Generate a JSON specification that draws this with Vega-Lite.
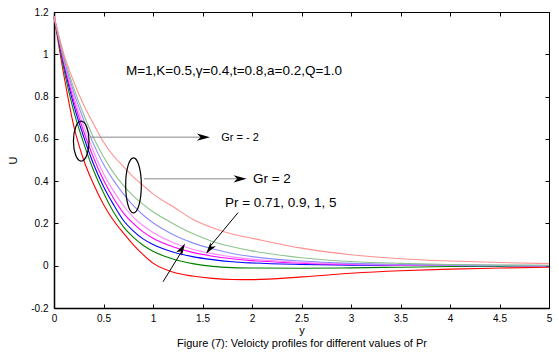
{
  "$schema": "https://vega.github.io/schema/vega-lite/v6.json",
  "autosize": "none",
  "width": 495,
  "height": 296,
  "padding": {"left": 54, "top": 12, "right": 9, "bottom": 48},
  "background": "white",
  "config": {
    "font": "Liberation Sans",
    "view": {"stroke": "black", "strokeWidth": 1},
    "axis": {"grid": false, "domainColor": "black", "tickColor": "black", "labelColor": "black", "titleColor": "black", "labelFont": "Liberation Sans", "titleFont": "Liberation Sans", "labelFontSize": 10, "titleFontSize": 11, "titleFontWeight": "normal"}
  },
  "datasets": {
    "curves": [
      {"series":"Gr=-2, Pr=0.71","y":0,"U":1.18},{"series":"Gr=-2, Pr=0.71","y":0.1,"U":0.9},{"series":"Gr=-2, Pr=0.71","y":0.2,"U":0.66},{"series":"Gr=-2, Pr=0.71","y":0.3,"U":0.5},{"series":"Gr=-2, Pr=0.71","y":0.4,"U":0.385},{"series":"Gr=-2, Pr=0.71","y":0.5,"U":0.29},{"series":"Gr=-2, Pr=0.71","y":0.6,"U":0.215},{"series":"Gr=-2, Pr=0.71","y":0.7,"U":0.155},{"series":"Gr=-2, Pr=0.71","y":0.8,"U":0.1},{"series":"Gr=-2, Pr=0.71","y":0.9,"U":0.052},{"series":"Gr=-2, Pr=0.71","y":1.0,"U":0.012},{"series":"Gr=-2, Pr=0.71","y":1.2,"U":-0.03},{"series":"Gr=-2, Pr=0.71","y":1.4,"U":-0.049},{"series":"Gr=-2, Pr=0.71","y":1.6,"U":-0.06},{"series":"Gr=-2, Pr=0.71","y":1.8,"U":-0.065},{"series":"Gr=-2, Pr=0.71","y":2.0,"U":-0.066},{"series":"Gr=-2, Pr=0.71","y":2.5,"U":-0.053},{"series":"Gr=-2, Pr=0.71","y":3.0,"U":-0.036},{"series":"Gr=-2, Pr=0.71","y":3.5,"U":-0.024},{"series":"Gr=-2, Pr=0.71","y":4.0,"U":-0.016},{"series":"Gr=-2, Pr=0.71","y":4.5,"U":-0.011},{"series":"Gr=-2, Pr=0.71","y":5.0,"U":-0.007},
      {"series":"Gr=-2, Pr=0.9","y":0,"U":1.18},{"series":"Gr=-2, Pr=0.9","y":0.1,"U":0.93},{"series":"Gr=-2, Pr=0.9","y":0.2,"U":0.73},{"series":"Gr=-2, Pr=0.9","y":0.3,"U":0.58},{"series":"Gr=-2, Pr=0.9","y":0.4,"U":0.45},{"series":"Gr=-2, Pr=0.9","y":0.5,"U":0.345},{"series":"Gr=-2, Pr=0.9","y":0.6,"U":0.255},{"series":"Gr=-2, Pr=0.9","y":0.7,"U":0.185},{"series":"Gr=-2, Pr=0.9","y":0.8,"U":0.135},{"series":"Gr=-2, Pr=0.9","y":0.9,"U":0.097},{"series":"Gr=-2, Pr=0.9","y":1.0,"U":0.068},{"series":"Gr=-2, Pr=0.9","y":1.2,"U":0.032},{"series":"Gr=-2, Pr=0.9","y":1.4,"U":0.01},{"series":"Gr=-2, Pr=0.9","y":1.6,"U":-0.003},{"series":"Gr=-2, Pr=0.9","y":1.8,"U":-0.009},{"series":"Gr=-2, Pr=0.9","y":2.0,"U":-0.011},{"series":"Gr=-2, Pr=0.9","y":2.5,"U":-0.012},{"series":"Gr=-2, Pr=0.9","y":3.0,"U":-0.01},{"series":"Gr=-2, Pr=0.9","y":3.5,"U":-0.007},{"series":"Gr=-2, Pr=0.9","y":4.0,"U":-0.004},{"series":"Gr=-2, Pr=0.9","y":4.5,"U":-0.002},{"series":"Gr=-2, Pr=0.9","y":5.0,"U":0},
      {"series":"Gr=-2, Pr=1","y":0,"U":1.18},{"series":"Gr=-2, Pr=1","y":0.1,"U":0.95},{"series":"Gr=-2, Pr=1","y":0.2,"U":0.76},{"series":"Gr=-2, Pr=1","y":0.3,"U":0.61},{"series":"Gr=-2, Pr=1","y":0.4,"U":0.48},{"series":"Gr=-2, Pr=1","y":0.5,"U":0.375},{"series":"Gr=-2, Pr=1","y":0.6,"U":0.29},{"series":"Gr=-2, Pr=1","y":0.7,"U":0.215},{"series":"Gr=-2, Pr=1","y":0.8,"U":0.165},{"series":"Gr=-2, Pr=1","y":0.9,"U":0.127},{"series":"Gr=-2, Pr=1","y":1.0,"U":0.1},{"series":"Gr=-2, Pr=1","y":1.2,"U":0.065},{"series":"Gr=-2, Pr=1","y":1.4,"U":0.043},{"series":"Gr=-2, Pr=1","y":1.6,"U":0.029},{"series":"Gr=-2, Pr=1","y":1.8,"U":0.019},{"series":"Gr=-2, Pr=1","y":2.0,"U":0.013},{"series":"Gr=-2, Pr=1","y":2.5,"U":0.006},{"series":"Gr=-2, Pr=1","y":3.0,"U":0.003},{"series":"Gr=-2, Pr=1","y":3.5,"U":0.002},{"series":"Gr=-2, Pr=1","y":4.0,"U":0.001},{"series":"Gr=-2, Pr=1","y":4.5,"U":0},{"series":"Gr=-2, Pr=1","y":5.0,"U":0},
      {"series":"Gr=-2, Pr=5","y":0,"U":1.18},{"series":"Gr=-2, Pr=5","y":0.1,"U":0.96},{"series":"Gr=-2, Pr=5","y":0.2,"U":0.78},{"series":"Gr=-2, Pr=5","y":0.3,"U":0.635},{"series":"Gr=-2, Pr=5","y":0.4,"U":0.51},{"series":"Gr=-2, Pr=5","y":0.5,"U":0.405},{"series":"Gr=-2, Pr=5","y":0.6,"U":0.32},{"series":"Gr=-2, Pr=5","y":0.7,"U":0.25},{"series":"Gr=-2, Pr=5","y":0.8,"U":0.2},{"series":"Gr=-2, Pr=5","y":0.9,"U":0.16},{"series":"Gr=-2, Pr=5","y":1.0,"U":0.13},{"series":"Gr=-2, Pr=5","y":1.2,"U":0.09},{"series":"Gr=-2, Pr=5","y":1.4,"U":0.063},{"series":"Gr=-2, Pr=5","y":1.6,"U":0.045},{"series":"Gr=-2, Pr=5","y":1.8,"U":0.033},{"series":"Gr=-2, Pr=5","y":2.0,"U":0.024},{"series":"Gr=-2, Pr=5","y":2.5,"U":0.012},{"series":"Gr=-2, Pr=5","y":3.0,"U":0.006},{"series":"Gr=-2, Pr=5","y":3.5,"U":0.003},{"series":"Gr=-2, Pr=5","y":4.0,"U":0.002},{"series":"Gr=-2, Pr=5","y":4.5,"U":0.001},{"series":"Gr=-2, Pr=5","y":5.0,"U":0},
      {"series":"Gr=2, Pr=5","y":0,"U":1.18},{"series":"Gr=2, Pr=5","y":0.1,"U":0.97},{"series":"Gr=2, Pr=5","y":0.2,"U":0.8},{"series":"Gr=2, Pr=5","y":0.3,"U":0.66},{"series":"Gr=2, Pr=5","y":0.4,"U":0.54},{"series":"Gr=2, Pr=5","y":0.5,"U":0.435},{"series":"Gr=2, Pr=5","y":0.6,"U":0.355},{"series":"Gr=2, Pr=5","y":0.7,"U":0.285},{"series":"Gr=2, Pr=5","y":0.8,"U":0.23},{"series":"Gr=2, Pr=5","y":0.9,"U":0.19},{"series":"Gr=2, Pr=5","y":1.0,"U":0.157},{"series":"Gr=2, Pr=5","y":1.2,"U":0.11},{"series":"Gr=2, Pr=5","y":1.4,"U":0.078},{"series":"Gr=2, Pr=5","y":1.6,"U":0.057},{"series":"Gr=2, Pr=5","y":1.8,"U":0.042},{"series":"Gr=2, Pr=5","y":2.0,"U":0.031},{"series":"Gr=2, Pr=5","y":2.5,"U":0.016},{"series":"Gr=2, Pr=5","y":3.0,"U":0.008},{"series":"Gr=2, Pr=5","y":3.5,"U":0.004},{"series":"Gr=2, Pr=5","y":4.0,"U":0.002},{"series":"Gr=2, Pr=5","y":4.5,"U":0.001},{"series":"Gr=2, Pr=5","y":5.0,"U":0},
      {"series":"Gr=2, Pr=1","y":0,"U":1.18},{"series":"Gr=2, Pr=1","y":0.1,"U":0.98},{"series":"Gr=2, Pr=1","y":0.2,"U":0.82},{"series":"Gr=2, Pr=1","y":0.3,"U":0.69},{"series":"Gr=2, Pr=1","y":0.4,"U":0.575},{"series":"Gr=2, Pr=1","y":0.5,"U":0.48},{"series":"Gr=2, Pr=1","y":0.6,"U":0.405},{"series":"Gr=2, Pr=1","y":0.7,"U":0.34},{"series":"Gr=2, Pr=1","y":0.8,"U":0.285},{"series":"Gr=2, Pr=1","y":0.9,"U":0.24},{"series":"Gr=2, Pr=1","y":1.0,"U":0.203},{"series":"Gr=2, Pr=1","y":1.2,"U":0.148},{"series":"Gr=2, Pr=1","y":1.4,"U":0.108},{"series":"Gr=2, Pr=1","y":1.6,"U":0.08},{"series":"Gr=2, Pr=1","y":1.8,"U":0.058},{"series":"Gr=2, Pr=1","y":2.0,"U":0.043},{"series":"Gr=2, Pr=1","y":2.5,"U":0.022},{"series":"Gr=2, Pr=1","y":3.0,"U":0.011},{"series":"Gr=2, Pr=1","y":3.5,"U":0.006},{"series":"Gr=2, Pr=1","y":4.0,"U":0.003},{"series":"Gr=2, Pr=1","y":4.5,"U":0.002},{"series":"Gr=2, Pr=1","y":5.0,"U":0.001},
      {"series":"Gr=2, Pr=0.9","y":0,"U":1.18},{"series":"Gr=2, Pr=0.9","y":0.1,"U":0.99},{"series":"Gr=2, Pr=0.9","y":0.2,"U":0.84},{"series":"Gr=2, Pr=0.9","y":0.3,"U":0.715},{"series":"Gr=2, Pr=0.9","y":0.4,"U":0.605},{"series":"Gr=2, Pr=0.9","y":0.5,"U":0.515},{"series":"Gr=2, Pr=0.9","y":0.6,"U":0.44},{"series":"Gr=2, Pr=0.9","y":0.7,"U":0.38},{"series":"Gr=2, Pr=0.9","y":0.8,"U":0.33},{"series":"Gr=2, Pr=0.9","y":0.9,"U":0.29},{"series":"Gr=2, Pr=0.9","y":1.0,"U":0.255},{"series":"Gr=2, Pr=0.9","y":1.2,"U":0.2},{"series":"Gr=2, Pr=0.9","y":1.4,"U":0.152},{"series":"Gr=2, Pr=0.9","y":1.6,"U":0.115},{"series":"Gr=2, Pr=0.9","y":1.8,"U":0.09},{"series":"Gr=2, Pr=0.9","y":2.0,"U":0.07},{"series":"Gr=2, Pr=0.9","y":2.5,"U":0.038},{"series":"Gr=2, Pr=0.9","y":3.0,"U":0.02},{"series":"Gr=2, Pr=0.9","y":3.5,"U":0.011},{"series":"Gr=2, Pr=0.9","y":4.0,"U":0.006},{"series":"Gr=2, Pr=0.9","y":4.5,"U":0.003},{"series":"Gr=2, Pr=0.9","y":5.0,"U":0.002},
      {"series":"Gr=2, Pr=0.71","y":0,"U":1.18},{"series":"Gr=2, Pr=0.71","y":0.1,"U":1.0},{"series":"Gr=2, Pr=0.71","y":0.2,"U":0.87},{"series":"Gr=2, Pr=0.71","y":0.3,"U":0.76},{"series":"Gr=2, Pr=0.71","y":0.4,"U":0.67},{"series":"Gr=2, Pr=0.71","y":0.5,"U":0.585},{"series":"Gr=2, Pr=0.71","y":0.6,"U":0.52},{"series":"Gr=2, Pr=0.71","y":0.7,"U":0.47},{"series":"Gr=2, Pr=0.71","y":0.8,"U":0.42},{"series":"Gr=2, Pr=0.71","y":0.9,"U":0.38},{"series":"Gr=2, Pr=0.71","y":1.0,"U":0.34},{"series":"Gr=2, Pr=0.71","y":1.2,"U":0.28},{"series":"Gr=2, Pr=0.71","y":1.4,"U":0.22},{"series":"Gr=2, Pr=0.71","y":1.6,"U":0.18},{"series":"Gr=2, Pr=0.71","y":1.8,"U":0.15},{"series":"Gr=2, Pr=0.71","y":2.0,"U":0.13},{"series":"Gr=2, Pr=0.71","y":2.5,"U":0.083},{"series":"Gr=2, Pr=0.71","y":3.0,"U":0.052},{"series":"Gr=2, Pr=0.71","y":3.5,"U":0.033},{"series":"Gr=2, Pr=0.71","y":4.0,"U":0.022},{"series":"Gr=2, Pr=0.71","y":4.5,"U":0.015},{"series":"Gr=2, Pr=0.71","y":5.0,"U":0.01}
    ],
    "bigLabels": [
      {"y":0.727,"U":0.92,"text":"M=1,K=0.5,γ=0.4,t=0.8,a=0.2,Q=1.0"},
      {"y":2.01,"U":0.411,"text":"Gr = 2"},
      {"y":1.727,"U":0.297,"text":"Pr = 0.71, 0.9, 1, 5"}
    ],
    "smallLabels": [
      {"y":1.69,"U":0.605,"text":"Gr = - 2"}
    ],
    "grayArrows": [
      {"y":0.364,"U":0.608,"y2":1.5,"U2":0.608},
      {"y":0.91,"U":0.411,"y2":1.86,"U2":0.411}
    ],
    "blackArrows": [
      {"y":1.101,"U":-0.076,"y2":1.3,"U2":0.075},
      {"y":1.859,"U":0.251,"y2":1.565,"U2":0.085}
    ],
    "rightHeads": [{"y":1.51,"U":0.608},{"y":1.88,"U":0.411}],
    "upHead": [{"y":1.293,"U":0.08}],
    "downHead": [{"y":1.572,"U":0.079}],
    "ellipse1": [{"y":0.275,"U":0.589}],
    "ellipse2": [{"y":0.803,"U":0.38}]
  },
  "layer": [
    {
      "data": {"name": "curves"},
      "mark": {"type": "line", "strokeWidth": 1.1, "interpolate": "monotone"},
      "encoding": {
        "x": {"field": "y", "type": "quantitative", "scale": {"domain": [0, 5], "nice": false, "zero": false},
          "axis": {"orient": "bottom", "values": [0,0.5,1,1.5,2,2.5,3,3.5,4,4.5,5], "format": "~g", "tickSize": -4, "labelPadding": 9, "labelFlush": false, "domainWidth": 1.5,
            "title": ["y", "Figure (7): Veloicty profiles for different values of Pr"], "titlePadding": 1}},
        "y": {"field": "U", "type": "quantitative", "scale": {"domain": [-0.2, 1.2], "nice": false, "zero": false},
          "axis": {"orient": "left", "values": [-0.2,0,0.2,0.4,0.6,0.8,1,1.2], "format": "~g", "labelExpr": "replace(datum.label, '−', '-')", "tickSize": -4, "labelPadding": 10, "labelFlush": false, "domainWidth": 1.5,
            "title": "U", "titlePadding": 12}},
        "color": {"field": "series", "type": "nominal", "legend": null,
          "scale": {"domain": ["Gr=-2, Pr=0.71","Gr=-2, Pr=0.9","Gr=-2, Pr=1","Gr=-2, Pr=5","Gr=2, Pr=5","Gr=2, Pr=1","Gr=2, Pr=0.9","Gr=2, Pr=0.71"],
            "range": ["#ff0000","#008000","#0000ff","#ff00ff","#ff88ff","#8c8cff","#8cc48c","#ff9090"]}}
      }
    },
    {
      "data": {"name": "bigLabels"},
      "mark": {"type": "text", "align": "left", "baseline": "middle", "fontSize": 13.5, "font": "Liberation Sans", "color": "black"},
      "encoding": {
        "x": {"field": "y", "type": "quantitative", "axis": {"orient": "top", "values": [0,0.5,1,1.5,2,2.5,3,3.5,4,4.5,5], "labels": false, "title": null, "tickSize": -4, "domain": false}},
        "y": {"field": "U", "type": "quantitative", "axis": {"orient": "right", "values": [-0.2,0,0.2,0.4,0.6,0.8,1,1.2], "labels": false, "title": null, "tickSize": -4, "domain": false}},
        "text": {"field": "text"}
      }
    },
    {
      "data": {"name": "smallLabels"},
      "mark": {"type": "text", "align": "left", "baseline": "middle", "fontSize": 11, "font": "Liberation Sans", "color": "black"},
      "encoding": {
        "x": {"field": "y", "type": "quantitative", "axis": null},
        "y": {"field": "U", "type": "quantitative", "axis": null},
        "text": {"field": "text"}
      }
    },
    {
      "data": {"name": "grayArrows"},
      "mark": {"type": "rule", "color": "#888888", "strokeWidth": 1},
      "encoding": {
        "x": {"field": "y", "type": "quantitative", "axis": null},
        "y": {"field": "U", "type": "quantitative", "axis": null},
        "x2": {"field": "y2"},
        "y2": {"field": "U2"}
      }
    },
    {
      "data": {"name": "blackArrows"},
      "mark": {"type": "rule", "color": "black", "strokeWidth": 1},
      "encoding": {
        "x": {"field": "y", "type": "quantitative", "axis": null},
        "y": {"field": "U", "type": "quantitative", "axis": null},
        "x2": {"field": "y2"},
        "y2": {"field": "U2"}
      }
    },
    {
      "data": {"name": "rightHeads"},
      "mark": {"type": "point", "shape": "M 1 0 L -1 -0.55 L -0.45 0 L -1 0.55 Z", "size": 169, "filled": true, "color": "black", "opacity": 1},
      "encoding": {
        "x": {"field": "y", "type": "quantitative", "axis": null},
        "y": {"field": "U", "type": "quantitative", "axis": null}
      }
    },
    {
      "data": {"name": "upHead"},
      "mark": {"type": "point", "shape": "M 1 0 L -1 -0.55 L -0.45 0 L -1 0.55 Z", "size": 144, "angle": -60, "filled": true, "color": "black", "opacity": 1},
      "encoding": {
        "x": {"field": "y", "type": "quantitative", "axis": null},
        "y": {"field": "U", "type": "quantitative", "axis": null}
      }
    },
    {
      "data": {"name": "downHead"},
      "mark": {"type": "point", "shape": "M 1 0 L -1 -0.55 L -0.45 0 L -1 0.55 Z", "size": 144, "angle": 127, "filled": true, "color": "black", "opacity": 1},
      "encoding": {
        "x": {"field": "y", "type": "quantitative", "axis": null},
        "y": {"field": "U", "type": "quantitative", "axis": null}
      }
    },
    {
      "data": {"name": "ellipse1"},
      "mark": {"type": "point", "shape": "M 0.39 0 C 0.39 0.5523 0.2154 1 0 1 C -0.2154 1 -0.39 0.5523 -0.39 0 C -0.39 -0.5523 -0.2154 -1 0 -1 C 0.2154 -1 0.39 -0.5523 0.39 0 Z", "size": 1600, "filled": false, "stroke": "black", "strokeWidth": 1.2, "opacity": 1},
      "encoding": {
        "x": {"field": "y", "type": "quantitative", "axis": null},
        "y": {"field": "U", "type": "quantitative", "axis": null}
      }
    },
    {
      "data": {"name": "ellipse2"},
      "mark": {"type": "point", "shape": "M 0.285 0 C 0.285 0.5523 0.1574 1 0 1 C -0.1574 1 -0.285 0.5523 -0.285 0 C -0.285 -0.5523 -0.1574 -1 0 -1 C 0.1574 -1 0.285 -0.5523 0.285 0 Z", "size": 3025, "filled": false, "stroke": "black", "strokeWidth": 1.2, "opacity": 1},
      "encoding": {
        "x": {"field": "y", "type": "quantitative", "axis": null},
        "y": {"field": "U", "type": "quantitative", "axis": null}
      }
    }
  ]
}
